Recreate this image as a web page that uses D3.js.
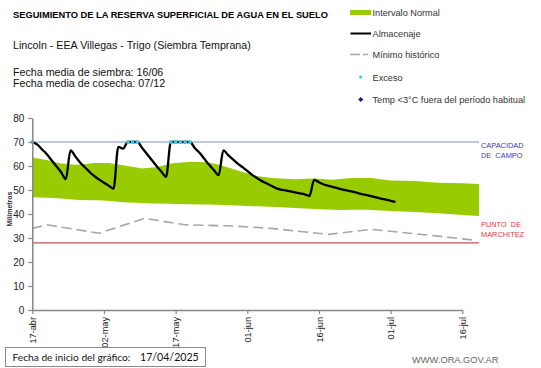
<!DOCTYPE html>
<html>
<head>
<meta charset="utf-8">
<script src="https://cdn.jsdelivr.net/npm/d3@7"></script>
<style>
  html, body { margin: 0; padding: 0; background: #fff; }
  svg { display: block; }
</style>
</head>
<body>
<svg id="chart" width="541" height="368"></svg>
<script>
// ---------- DATA (day offsets from 17/04/2025) ----------
const tickDays   = [0, 15, 30, 45, 60, 75, 90];
const tickLabels = ["17-abr", "02-may", "17-may", "01-jun", "16-jun", "01-jul", "16-jul"];
const yTicks     = [0, 10, 20, 30, 40, 50, 60, 70, 80];

// Almacenaje (daily, from day 0)
const almacenaje = [70, 69, 67, 65, 62.5, 60, 57.5, 54.5, 66.5, 64,
  61.5, 59.5, 57.5, 55.8, 54.3, 53, 51.8, 50.5, 68, 67.2,
  70, 70, 70, 67.5, 65, 62.5, 60, 57.7, 55.5, 70,
  70, 70, 70, 70, 67.5, 65.5, 63, 60.5, 58.3, 56.2,
  66.5, 64.5, 62.8, 61, 59.5, 58, 56.3, 55, 53.8, 52.8,
  51.8, 50.8, 50.2, 49.8, 49.4, 49, 48.6, 48.2, 47.5, 54.2,
  53.2, 52.3, 51.7, 51.2, 50.7, 50.2, 49.7, 49.3, 48.8, 48.3,
  47.9, 47.4, 46.9, 46.4, 46, 45.5, 45.1];

// Exceso days (storage at field capacity)
const excesoDias = [0, 20, 21, 22, 29, 30, 31, 32, 33];

// Intervalo normal: upper bound
const normalSupDias = [0, 3, 6, 9, 13, 16, 20, 23, 26, 29, 33, 37, 40, 44, 47, 50, 55, 59, 63, 67, 71, 75, 80, 85, 90, 93.5];
const normalSupVal  = [63.5, 62.5, 61, 60.5, 61.2, 61.3, 60, 59, 59.5, 61, 61.8, 61.5, 60, 57.5, 55.8, 55, 54.5, 54.8, 54.3, 55, 55, 54, 53.8, 53, 52.8, 52.5];
// Intervalo normal: lower bound
const normalInfDias = [0, 5, 10, 15, 20, 25, 30, 35, 40, 45, 50, 55, 60, 65, 70, 75, 80, 85, 90, 93.5];
const normalInfVal  = [47, 46.6, 45.8, 45.6, 44.8, 44.4, 44.2, 44, 43.8, 43.3, 43, 42.5, 42, 41.7, 41.8, 41.3, 40.8, 40.3, 39.6, 39.2];

// Mínimo histórico
const minimoDias = [0, 3, 14, 23.5, 32, 42, 50, 62, 71, 83, 92];
const minimoVal  = [34, 35.5, 32, 38.2, 35.5, 35, 34, 31.5, 33.6, 31.2, 29.2];

const capacidadCampo = 70;
const puntoMarchitez = 28;
const finDia = 93.5;

// ---------- CHART ----------
const svg = d3.select("#chart");
const FONT = "'Liberation Sans', Arial, sans-serif";

const x = d3.scaleLinear().domain([0, 90]).range([32.3, 462.3]);
const y = d3.scaleLinear().domain([0, 80]).range([310, 118]);

// Green band
const supF = d3.scaleLinear().domain(normalSupDias).range(normalSupVal);
const infF = d3.scaleLinear().domain(normalInfDias).range(normalInfVal);
const bandDays = Array.from(new Set([...normalSupDias, ...normalInfDias])).sort((a, b) => a - b);
svg.append("path")
  .datum(bandDays)
  .attr("fill", "#99cc00")
  .attr("d", d3.area()
    .x(d => x(d))
    .y0(d => y(infF(d)))
    .y1(d => y(supF(d))));

// Reference lines
svg.append("line")
  .attr("x1", x(0)).attr("x2", x(finDia))
  .attr("y1", y(capacidadCampo)).attr("y2", y(capacidadCampo))
  .attr("stroke", "#7f93c4").attr("stroke-width", 1.2);
svg.append("line")
  .attr("x1", x(0)).attr("x2", x(finDia))
  .attr("y1", y(puntoMarchitez)).attr("y2", y(puntoMarchitez))
  .attr("stroke", "#c8504f").attr("stroke-width", 1.2);

// Mínimo histórico
svg.append("path")
  .datum(minimoDias.map((d, i) => [d, minimoVal[i]]))
  .attr("fill", "none")
  .attr("stroke", "#a6a6a6")
  .attr("stroke-width", 1.6)
  .attr("stroke-dasharray", "10,5")
  .attr("d", d3.line().x(d => x(d[0])).y(d => y(d[1])));

// Almacenaje
svg.append("path")
  .datum(almacenaje)
  .attr("fill", "none")
  .attr("stroke", "#000")
  .attr("stroke-width", 2.3)
  .attr("stroke-linejoin", "round")
  .attr("d", d3.line().x((d, i) => x(i)).y(d => y(d)).curve(d3.curveMonotoneX));

// Exceso
svg.append("g").selectAll("circle")
  .data(excesoDias)
  .join("circle")
  .attr("cx", d => x(d))
  .attr("cy", d => y(almacenaje[d]))
  .attr("r", 1.9)
  .attr("fill", "#3ec8e6");

// Axes
const yAxis = svg.append("g")
  .attr("transform", `translate(${x(0)},0)`)
  .call(d3.axisLeft(y).tickValues(yTicks).tickSize(4).tickSizeOuter(0).tickPadding(4));
const xAxis = svg.append("g")
  .attr("transform", `translate(0,${y(0)})`)
  .call(d3.axisBottom(x).tickValues(tickDays).tickFormat((d, i) => tickLabels[i]).tickSize(4).tickSizeOuter(0));

[yAxis, xAxis].forEach(g => {
  g.select(".domain").attr("stroke", "#868686").attr("stroke-width", 1.5);
  g.selectAll(".tick line").attr("stroke", "#868686").attr("stroke-width", 1.2);
  g.selectAll("text").attr("font-family", FONT).attr("fill", "#222");
});
yAxis.selectAll("text").attr("font-size", 10);
xAxis.selectAll("text")
  .attr("font-size", 9.2)
  .attr("text-anchor", "end")
  .attr("transform", "rotate(-90)")
  .attr("x", -7)
  .attr("y", 0)
  .attr("dy", "0.35em");

// Y label
svg.append("text")
  .attr("transform", "translate(12,209) rotate(-90)")
  .attr("text-anchor", "middle")
  .attr("font-family", FONT).attr("font-size", 7).attr("font-weight", "bold")
  .attr("fill", "#333")
  .text("Milímetros");

// Reference line labels
const refLabels = [
  { t: "CAPACIDAD", yy: 148, c: "#3a3ab8" },
  { t: "DE  CAMPO", yy: 157.5, c: "#3a3ab8" },
  { t: "PUNTO  DE", yy: 227, c: "#e03a3a" },
  { t: "MARCHITEZ", yy: 236.5, c: "#e03a3a" }
];
svg.append("g").selectAll("text")
  .data(refLabels)
  .join("text")
  .attr("x", 481).attr("y", d => d.yy)
  .attr("font-family", FONT).attr("font-size", 7.4)
  .attr("fill", d => d.c)
  .attr("xml:space", "preserve")
  .style("white-space", "pre")
  .text(d => d.t);

// Titles
svg.append("text")
  .attr("x", 13).attr("y", 18.3)
  .attr("font-family", FONT).attr("font-size", 9.3).attr("font-weight", "bold")
  .attr("fill", "#000")
  .text("SEGUIMIENTO DE LA RESERVA SUPERFICIAL DE AGUA EN EL SUELO");
const info = [
  { t: "Lincoln - EEA Villegas - Trigo (Siembra Temprana)", yy: 49 },
  { t: "Fecha media de siembra: 16/06", yy: 75.5 },
  { t: "Fecha media de cosecha: 07/12", yy: 87.3 }
];
svg.append("g").selectAll("text")
  .data(info)
  .join("text")
  .attr("x", 13).attr("y", d => d.yy)
  .attr("font-family", FONT).attr("font-size", 10.7)
  .attr("fill", "#111")
  .text(d => d.t);

// Legend
const lg = svg.append("g").attr("font-family", FONT).attr("font-size", 9.2).attr("fill", "#333");
lg.append("rect").attr("x", 350).attr("y", 10).attr("width", 21).attr("height", 5).attr("fill", "#99cc00");
lg.append("text").attr("x", 372.5).attr("y", 15.5).text("Intervalo Normal");
lg.append("line").attr("x1", 350.5).attr("x2", 371).attr("y1", 33.5).attr("y2", 33.5).attr("stroke", "#000").attr("stroke-width", 2);
lg.append("text").attr("x", 372.5).attr("y", 37).text("Almacenaje");
lg.append("line").attr("x1", 350).attr("x2", 368).attr("y1", 54.5).attr("y2", 54.5)
  .attr("stroke", "#a6a6a6").attr("stroke-width", 1.4).attr("stroke-dasharray", "10,3,5");
lg.append("text").attr("x", 372.5).attr("y", 58).text("Mínimo histórico");
lg.append("circle").attr("cx", 360.7).attr("cy", 77).attr("r", 1.6).attr("fill", "#3ec8e6");
lg.append("text").attr("x", 372.5).attr("y", 80.5).text("Exceso");
lg.append("rect").attr("x", -1.8).attr("y", -1.8).attr("width", 3.6).attr("height", 3.6)
  .attr("transform", "translate(360.7,99.5) rotate(45)").attr("fill", "#1a1a8c");
lg.append("text").attr("x", 372.5).attr("y", 103).text("Temp <3°C fuera del período habitual");

// Bottom box
svg.append("rect")
  .attr("x", 5.5).attr("y", 347.5).attr("width", 200).attr("height", 19)
  .attr("fill", "#fff").attr("stroke", "#8a8a8a").attr("stroke-width", 1);
svg.append("text")
  .attr("x", 12.5).attr("y", 361)
  .attr("font-family", "Lato, 'Open Sans', sans-serif").attr("font-size", 10.2)
  .attr("fill", "#111")
  .text("Fecha de inicio del gráfico:");
svg.append("text")
  .attr("x", 140).attr("y", 361)
  .attr("font-family", "Lato, 'Open Sans', sans-serif").attr("font-size", 10.6)
  .attr("fill", "#111")
  .text("17/04/2025");

svg.append("text")
  .attr("x", 412).attr("y", 363)
  .attr("font-family", FONT).attr("font-size", 9.3)
  .attr("fill", "#666")
  .text("WWW.ORA.GOV.AR");
</script>
</body>
</html>
